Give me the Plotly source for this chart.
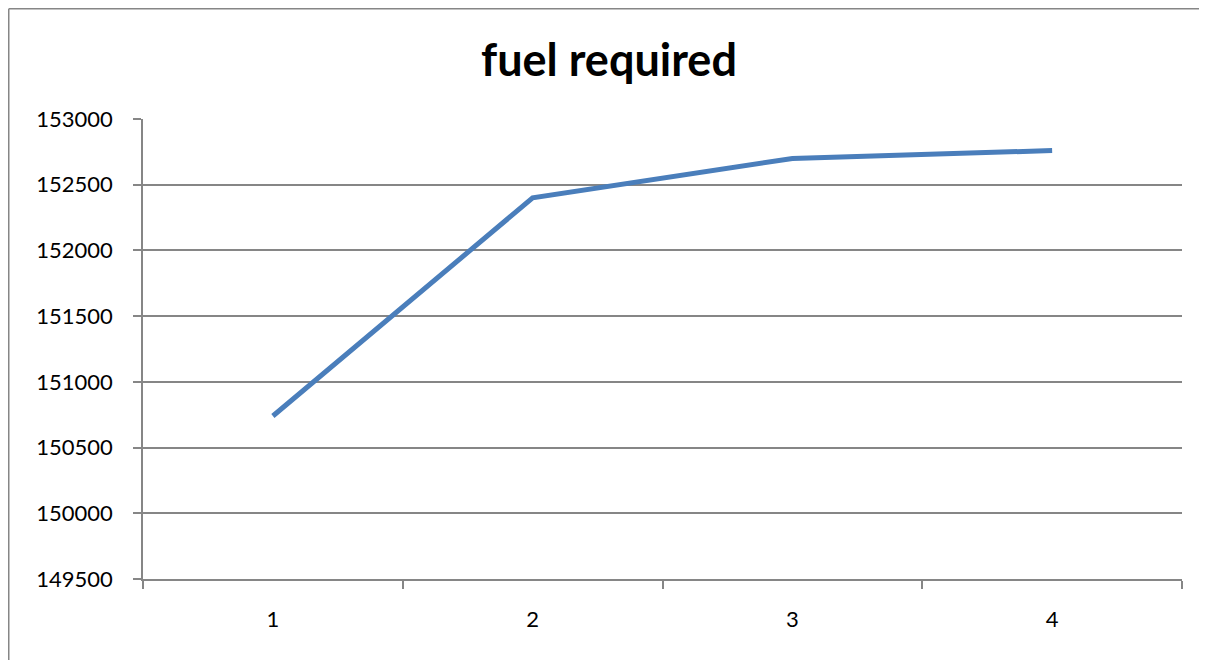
import plotly.graph_objects as go

categories = ["1", "2", "3", "4"]
fuel_required = [150740, 152400, 152700, 152760]
y_ticks = [149500, 150000, 150500, 151000, 151500, 152000, 152500, 153000]

# page body has an 8px margin, so figure coords = screen coords - 8
OFF = 8
W, H = 1207 - OFF, 660 - OFF
L, R, T, B = 143 - OFF, 1182 - OFF, 119 - OFF, 579 - OFF

fig = go.Figure()
fig.add_trace(go.Scatter(
    x=categories, y=fuel_required, mode="lines",
    line=dict(color="#4A7EBB", width=5),
    showlegend=False,
))

grid = "#868686"
fig.update_layout(
    width=W, height=H,
    margin=dict(l=L, r=W - R, t=T, b=H - B, pad=0),
    paper_bgcolor="white", plot_bgcolor="white",
    font=dict(family="Lato, Open Sans, sans-serif", size=22, color="black"),
    title=dict(text="<b>fuel required</b>", x=(609 - OFF) / W, xanchor="center",
               y=1 - (60 - OFF) / H, yanchor="middle",
               font=dict(size=45, family="Lato, Open Sans, sans-serif", color="black")),
    xaxis=dict(type="category", range=[-0.5, 3.5], tickson="boundaries",
               ticks="outside", ticklen=8, tickcolor=grid, tickwidth=1.5,
               showline=True, linecolor=grid, linewidth=1.5,
               showgrid=False, zeroline=False, ticklabelstandoff=20),
    yaxis=dict(range=[149500, 153000], tickvals=y_ticks,
               ticktext=[str(v) for v in y_ticks],
               ticks="outside", ticklen=8, tickcolor=grid, tickwidth=1.5,
               showline=True, linecolor=grid, linewidth=1.5,
               showgrid=True, gridcolor=grid, gridwidth=1.5,
               zeroline=False, ticklabelstandoff=16),
)

# outer chart-area border (top and left edges visible)
px = lambda x: (x - L) / (R - L)
py = lambda y: (B - y) / (B - T)
fig.add_shape(type="line", xref="paper", yref="paper",
              x0=px(0.75), x1=px(W + 5), y0=py(0.75), y1=py(0.75),
              line=dict(color=grid, width=1.5))
fig.add_shape(type="line", xref="paper", yref="paper",
              x0=px(0.75), x1=px(0.75), y0=py(0.75), y1=py(H + 5),
              line=dict(color=grid, width=1.5))

fig.write_html("out.html")
